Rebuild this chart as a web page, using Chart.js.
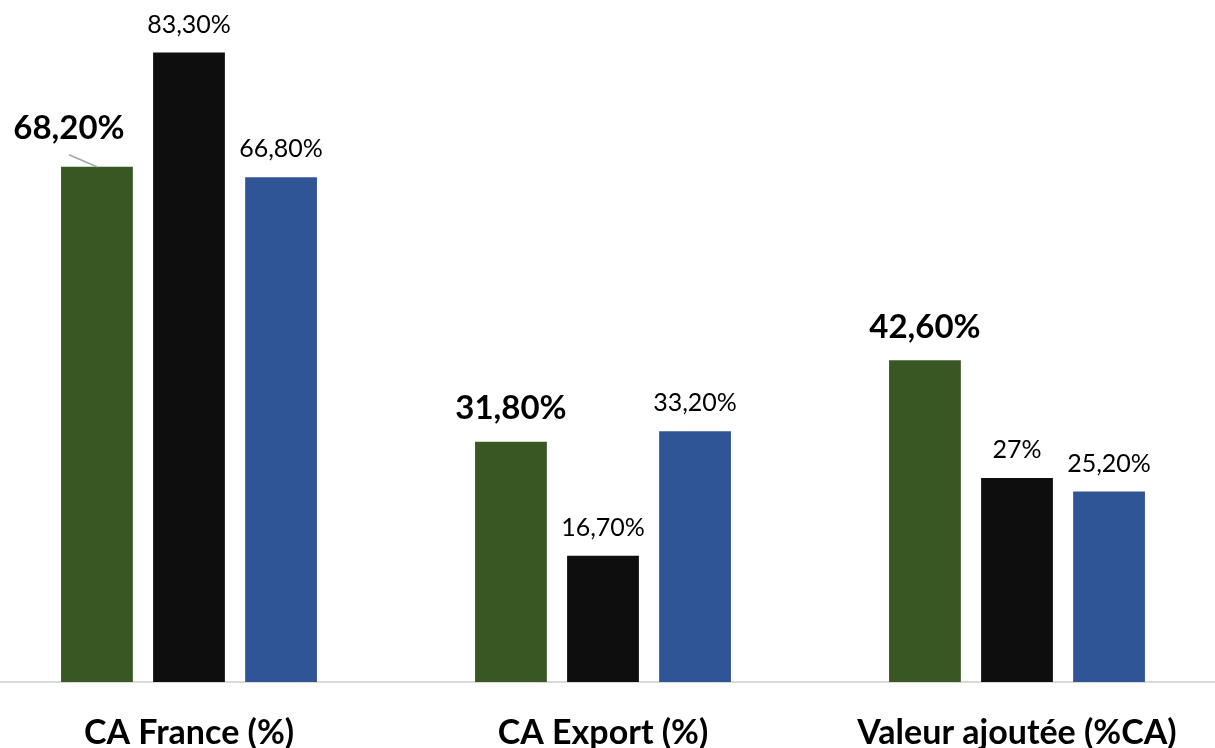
<!DOCTYPE html>
<html>
<head>
<meta charset="utf-8">
<script src="https://cdn.jsdelivr.net/npm/chart.js@4.4.1/dist/chart.umd.min.js"></script>
<style>
  html, body { margin: 0; padding: 0; background: #fff; overflow: hidden; }
  #wrap { position: absolute; left: -18px; top: 0; width: 1242px; height: 748px; }
</style>
</head>
<body>
<div id="wrap"><canvas id="chart"></canvas></div>
<script>
const categories = ["CA France (%)", "CA Export (%)", "Valeur ajoutée (%CA)"];
const greenValues = [68.2, 31.8, 42.6];
const blackValues = [83.3, 16.7, 27];
const blueValues = [66.8, 33.2, 25.2];

const chartColors = {
  green: "#385723",
  black: "#0e0e0e",
  blue: "#2f5597",
  axis: "#d9d9d9",
  leader: "#a6a6a6",
};

const FONT = "Lato, 'Open Sans', sans-serif";

function formatPct(v) {
  if (Number.isInteger(v)) return v + "%";
  return v.toFixed(2).replace(".", ",") + "%";
}

// draws value labels above each bar (bold for the first series)
const valueLabels = {
  id: "valueLabels",
  afterDatasetsDraw(chart) {
    const ctx = chart.ctx;
    ctx.save();
    ctx.textAlign = "center";
    ctx.textBaseline = "middle";
    chart.data.datasets.forEach((ds, di) => {
      const meta = chart.getDatasetMeta(di);
      meta.data.forEach((bar, i) => {
        const bold = di === 0;
        ctx.font = bold ? "bold 33px " + FONT : "25px " + FONT;
        ctx.fillStyle = "#000";
        let x = bar.x;
        let y = bar.y - (bold ? 33 : 28);
        // first label is moved to the left with a leader line
        if (di === 0 && i === 0) {
          x = bar.x - 28;
          y = bar.y - 38;
          ctx.strokeStyle = chartColors.leader;
          ctx.lineWidth = 1.5;
          ctx.beginPath();
          ctx.moveTo(x, y + 26);
          ctx.lineTo(bar.x, bar.y);
          ctx.stroke();
        }
        ctx.fillText(formatPct(ds.data[i]), x, y);
      });
    });
    ctx.restore();
  },
};

new Chart(document.getElementById("chart"), {
  type: "bar",
  data: {
    labels: categories,
    datasets: [
      { label: "Série 1", data: greenValues, backgroundColor: chartColors.green },
      { label: "Série 2", data: blackValues, backgroundColor: chartColors.black },
      { label: "Série 3", data: blueValues, backgroundColor: chartColors.blue },
    ],
  },
  options: {
    responsive: true,
    maintainAspectRatio: false,
    animation: false,
    layout: { padding: { top: 2, left: 0, right: 0, bottom: 0 } },
    categoryPercentage: 0.667,
    barPercentage: 0.78,
    plugins: {
      legend: { display: false },
      tooltip: { enabled: false },
    },
    scales: {
      y: {
        display: false,
        min: 0,
        max: 90,
      },
      x: {
        grid: { display: false, drawTicks: false },
        border: { display: true, color: chartColors.axis, width: 2 },
        ticks: {
          color: "#000",
          padding: 31,
          font: { family: FONT, size: 34, weight: "bold" },
          maxRotation: 0,
        },
        afterFit(scale) {
          scale.height = 66;
        },
      },
    },
  },
  plugins: [valueLabels],
});
</script>
</body>
</html>
